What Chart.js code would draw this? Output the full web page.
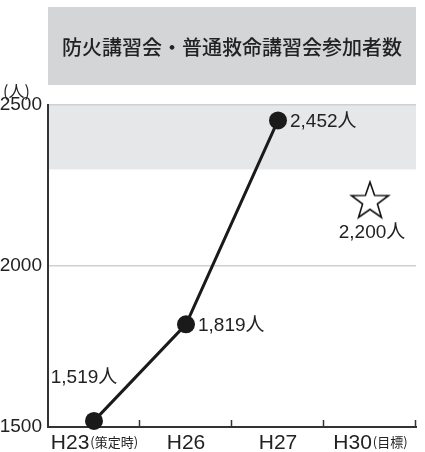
<!DOCTYPE html>
<html>
<head>
<meta charset="utf-8">
<script src="https://cdn.jsdelivr.net/npm/chart.js@4"></script>
<style>
  html, body { margin: 0; padding: 0; background: #fff; }
  #wrap { width: 425px; height: 452px; }
</style>
</head>
<body>
<div id="wrap"><canvas id="chart" width="425" height="452"></canvas></div>
<script>
  const chartTitle = '防火講習会・普通救命講習会参加者数';
  const unitLabel = '(人)';
  const years = ['H23', 'H26', 'H27', 'H30'];
  const yearNotes = ['(策定時)', '', '', '(目標)'];
  const actual = [1519, 1819, 2452, null];
  const target = [null, null, null, 2200];
  const yTicks = [1500, 2000, 2500];
  const targetBand = [2300, 2500];

  const latin = "'Liberation Sans', 'Noto Sans CJK JP', sans-serif";
  const cjk = "'Noto Sans CJK JP', sans-serif";

  // format 2452 -> "2,452人"
  function fmt(v) {
    return v.toLocaleString('en-US') + '人';
  }

  // outline star used as the point style of the target
  function makeStar() {
    const c = document.createElement('canvas');
    c.width = 44; c.height = 44;
    const g = c.getContext('2d');
    const R = 19.5, r = 7.8, cx = 22, cy = 22;
    g.beginPath();
    for (let i = 0; i < 10; i++) {
      const rad = i % 2 === 0 ? R : r;
      const a = -Math.PI / 2 + i * Math.PI / 5;
      const px = cx + rad * Math.cos(a);
      const py = cy + rad * Math.sin(a);
      if (i === 0) g.moveTo(px, py); else g.lineTo(px, py);
    }
    g.closePath();
    g.lineWidth = 1.6;
    g.strokeStyle = '#111';
    g.stroke();
    return c;
  }

  const decor = {
    id: 'decor',
    beforeDraw(chart) {
      const ctx = chart.ctx;
      const area = chart.chartArea;
      const y = chart.scales.y;
      // title box
      ctx.save();
      ctx.fillStyle = '#d4d5d7';
      ctx.fillRect(area.left, 7, area.right - area.left, 78);
      ctx.fillStyle = '#222';
      ctx.font = '500 20px ' + cjk;
      ctx.textAlign = 'center';
      ctx.textBaseline = 'middle';
      ctx.fillText(chartTitle, (area.left + area.right) / 2, 47);
      // unit
      ctx.font = '16px ' + cjk;
      ctx.textAlign = 'left';
      ctx.fillText(unitLabel, 3, 91);
      // target band
      const top = y.getPixelForValue(targetBand[1]);
      const bot = y.getPixelForValue(targetBand[0]);
      ctx.fillStyle = '#e6e7e9';
      ctx.fillRect(area.left, top, area.right - area.left, bot - top);
      ctx.restore();
    },
    afterDraw(chart) {
      const ctx = chart.ctx;
      const x = chart.scales.x;
      const area = chart.chartArea;
      const half = (x.getPixelForValue(1) - x.getPixelForValue(0)) / 2;
      ctx.save();
      // tick marks between categories
      ctx.strokeStyle = '#333';
      ctx.lineWidth = 1.5;
      years.forEach((_, i) => {
        const px = Math.round(x.getPixelForValue(i) + half) - 0.5;
        ctx.beginPath();
        ctx.moveTo(px, area.bottom);
        ctx.lineTo(px, area.bottom - 7);
        ctx.stroke();
      });
      // category labels with small notes
      ctx.fillStyle = '#222';
      ctx.textBaseline = 'alphabetic';
      ctx.textAlign = 'left';
      years.forEach((lab, i) => {
        ctx.font = '21px ' + latin;
        const w1 = ctx.measureText(lab).width;
        ctx.font = '13px ' + cjk;
        const w2 = yearNotes[i] ? ctx.measureText(yearNotes[i]).width : 0;
        const start = x.getPixelForValue(i) - (w1 + w2) / 2;
        ctx.font = '21px ' + latin;
        ctx.fillText(lab, start, 449);
        if (yearNotes[i]) {
          ctx.font = '13px ' + cjk;
          ctx.fillText(yearNotes[i], start + w1 + 1, 447);
        }
      });
      // value labels
      const meta = chart.getDatasetMeta(0);
      ctx.font = '19px ' + latin;
      ctx.textBaseline = 'middle';
      actual.forEach((v, i) => {
        if (v == null) return;
        const p = meta.data[i];
        if (i === 0) {
          ctx.textAlign = 'center';
          ctx.fillText(fmt(v), p.x - 10, p.y - 43);
        } else {
          ctx.textAlign = 'left';
          ctx.fillText(fmt(v), p.x + 12, p.y + 1);
        }
      });
      const meta2 = chart.getDatasetMeta(1);
      target.forEach((v, i) => {
        if (v == null) return;
        const p = meta2.data[i];
        ctx.textAlign = 'center';
        ctx.fillText(fmt(v), p.x + 2, p.y + 31);
      });
      ctx.restore();
    }
  };

  const ctx = document.getElementById('chart').getContext('2d');
  new Chart(ctx, {
    type: 'line',
    data: {
      labels: years,
      datasets: [{
        data: actual,
        borderColor: '#1a1a1a',
        backgroundColor: '#1a1a1a',
        borderWidth: 3,
        pointRadius: 9,
        pointBackgroundColor: '#1a1a1a',
        pointBorderWidth: 0,
        tension: 0,
        clip: false
      }, {
        data: target,
        showLine: false,
        pointStyle: makeStar(),
        pointRadius: 20,
        clip: false
      }]
    },
    options: {
      responsive: false,
      animation: false,
      events: [],
      layout: { autoPadding: false, padding: { top: 105, right: 9, left: 0, bottom: 0 } },
      plugins: {
        legend: { display: false },
        tooltip: { enabled: false }
      },
      scales: {
        x: {
          type: 'category',
          offset: true,
          grid: { display: false, offset: true },
          border: { color: '#333', width: 2 },
          ticks: { display: false },
          afterFit(s) { s.height = 25; }
        },
        y: {
          min: yTicks[0],
          max: yTicks[yTicks.length - 1],
          afterBuildTicks(s) { s.ticks = yTicks.map(v => ({ value: v })); },
          border: { color: '#333', width: 2 },
          grid: {
            color: c => (c.tick && c.tick.value === yTicks[0]) ? 'rgba(0,0,0,0)' : '#cfd0d2',
            lineWidth: 1.5,
            drawTicks: false
          },
          ticks: {
            color: '#222',
            padding: 6,
            font: { family: latin, size: 19 },
            callback: v => String(v)
          },
          afterFit(s) { s.width = 48; }
        }
      }
    },
    plugins: [decor]
  });
</script>
</body>
</html>
